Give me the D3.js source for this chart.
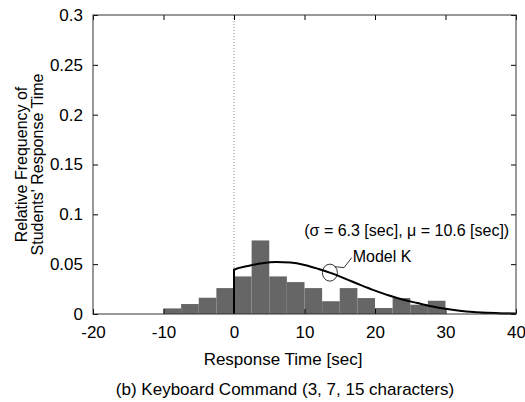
<!DOCTYPE html>
<meta charset="utf-8">
<style>
body { margin: 0; background: #fff; }
text { font-family: "Liberation Sans", Arial, sans-serif; fill: #000; }
.tick text { font-size: 17px; }
</style>
<svg width="525" height="402"></svg>
<script src="https://cdn.jsdelivr.net/npm/d3@7"></script>
<script>

// histogram bins (left edge, width 2.5 sec) and relative frequencies
var binStarts = [-10, -7.5, -5, -2.5, 0, 2.5, 5, 7.5, 10, 12.5, 15, 17.5, 20, 22.5, 25, 27.5, 30, 32.5, 35, 37.5];
var binFreq   = [0.0056, 0.010, 0.0163, 0.026, 0.0377, 0.0738, 0.0377, 0.032, 0.026, 0.0128, 0.026, 0.016, 0.006, 0.016, 0.0093, 0.0133, 0, 0, 0.0015, 0.0015];
var binWidth = 2.5;

// Model K curve
var modelX = [0, 0, 2, 4, 6, 8, 10, 12, 14, 16, 18, 20, 22, 24, 26, 28, 30, 32, 34, 36, 38, 40];
var modelY = [0, 0.0444, 0.0482, 0.0510, 0.0522, 0.0516, 0.0492, 0.0452, 0.0405, 0.0348, 0.0290, 0.0235, 0.0185, 0.0143, 0.0110, 0.0078, 0.0052, 0.0033, 0.0020, 0.0012, 0.0006, 0.0003];

var xTicks = [-20, -10, 0, 10, 20, 30, 40];
var yTicks = [0, 0.05, 0.1, 0.15, 0.2, 0.25, 0.3];

var svg = d3.select("svg"),
    margin = {top: 15, right: 9, bottom: 88, left: 93},
    width = +svg.attr("width") - margin.left - margin.right,
    height = +svg.attr("height") - margin.top - margin.bottom;

var x = d3.scaleLinear().domain([-20, 40]).range([0, width]);
var y = d3.scaleLinear().domain([0, 0.3]).range([height, 0]);

var g = svg.append("g").attr("transform", "translate(" + margin.left + "," + margin.top + ")");

// bars
g.selectAll("rect.bar")
  .data(binStarts.map(function(d, i) { return {x0: d, v: binFreq[i]}; }).filter(function(d) { return d.v > 0; }))
  .enter().append("rect")
    .attr("class", "bar")
    .attr("x", function(d) { return x(d.x0); })
    .attr("width", function(d) { return x(d.x0 + binWidth) - x(d.x0); })
    .attr("y", function(d) { return y(d.v); })
    .attr("height", function(d) { return y(0) - y(d.v); })
    .attr("fill", "#666");

// dotted line at zero
g.append("line")
    .attr("x1", x(0)).attr("x2", x(0))
    .attr("y1", 0).attr("y2", height)
    .attr("stroke", "#888")
    .attr("stroke-width", 1)
    .attr("stroke-dasharray", "1,2");

// model curve
var line = d3.line()
    .x(function(d) { return x(d[0]); })
    .y(function(d) { return y(d[1]); })
    .curve(d3.curveMonotoneX);

g.append("path")
    .datum(modelX.map(function(d, i) { return [d, modelY[i]]; }))
    .attr("fill", "none")
    .attr("stroke", "#000")
    .attr("stroke-width", 2)
    .attr("d", line);

// axes, ticks on all four sides pointing inward
g.append("g")
    .attr("class", "axis")
    .attr("transform", "translate(0," + height + ")")
    .call(d3.axisBottom(x).tickValues(xTicks).tickSizeInner(-5).tickSizeOuter(0).tickPadding(12)
      .tickFormat(function(d) { return String(d); }));
g.append("g")
    .attr("class", "axis")
    .call(d3.axisTop(x).tickValues(xTicks).tickSizeInner(-5).tickSizeOuter(0).tickFormat(""));
g.append("g")
    .attr("class", "axis")
    .call(d3.axisLeft(y).tickValues(yTicks).tickSizeInner(-5).tickSizeOuter(0).tickPadding(10)
      .tickFormat(function(d) { return String(+d.toFixed(2)); }));
g.append("g")
    .attr("class", "axis")
    .attr("transform", "translate(" + width + ",0)")
    .call(d3.axisRight(y).tickValues(yTicks).tickSizeInner(-5).tickSizeOuter(0).tickFormat(""));

g.selectAll(".axis .domain").remove();
g.selectAll(".axis .tick line").attr("stroke", "#000");

// frame
g.append("rect")
    .attr("width", width).attr("height", height)
    .attr("fill", "none")
    .attr("stroke", "#333")
    .attr("stroke-width", 1);

// annotation
g.append("text")
    .attr("x", x(24.5)).attr("y", y(0.0843))
    .attr("text-anchor", "middle")
    .attr("dy", "0.35em")
    .style("font-size", "16px")
    .text("(\u03c3 = 6.3 [sec], \u03bc = 10.6 [sec])");

g.append("ellipse")
    .attr("cx", x(13.6)).attr("cy", y(0.0415))
    .attr("rx", 7.5).attr("ry", 8.5)
    .attr("fill", "none")
    .attr("stroke", "#000")
    .attr("stroke-width", 0.8);

g.append("path")
    .attr("d", "M" + (x(13.6) + 5) + "," + (y(0.0415) - 6) +
               "L" + (x(15.6)) + "," + (y(0.0465)) +
               "L" + (x(16.7)) + "," + (y(0.0565)))
    .attr("fill", "none")
    .attr("stroke", "#000")
    .attr("stroke-width", 0.8);

g.append("text")
    .attr("x", x(16.7) + 1).attr("y", y(0.058))
    .attr("dy", "0.35em")
    .style("font-size", "16px")
    .text("Model K");

// axis titles
svg.append("text")
    .attr("transform", "translate(27," + (margin.top + height / 2) + ") rotate(-90)")
    .attr("text-anchor", "middle")
    .style("font-size", "16px")
    .text("Relative Frequency of");
svg.append("text")
    .attr("transform", "translate(43," + (margin.top + height / 2) + ") rotate(-90)")
    .attr("text-anchor", "middle")
    .style("font-size", "16px")
    .text("Students' Response Time");

svg.append("text")
    .attr("x", 283).attr("y", 365)
    .attr("text-anchor", "middle")
    .style("font-size", "17px")
    .text("Response Time [sec]");

svg.append("text")
    .attr("x", 285).attr("y", 395)
    .attr("text-anchor", "middle")
    .style("font-size", "17px")
    .text("(b) Keyboard Command (3, 7, 15 characters)");

</script>
